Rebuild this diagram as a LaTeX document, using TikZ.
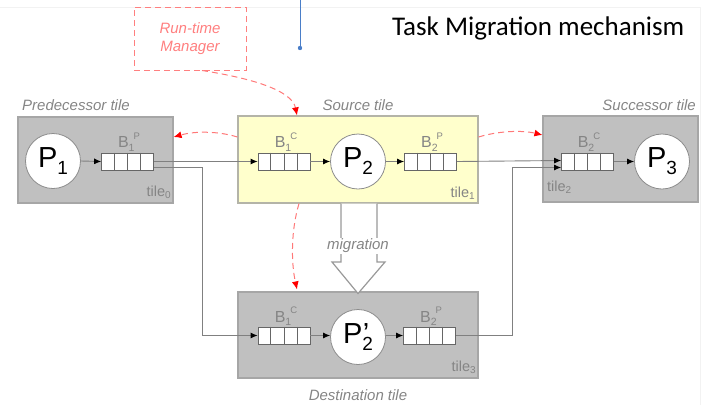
\documentclass[tikz,border=0pt]{standalone}
\usepackage{fontspec}
\setmainfont{Liberation Sans}
\newfontfamily\titlefont{Carlito}
\usetikzlibrary{arrows.meta,calc}
\definecolor{tilegray}{HTML}{C0C0C0}
\definecolor{tileedge}{HTML}{A6A6A6}
\definecolor{srcyellow}{HTML}{FFFFCC}
\definecolor{srcedge}{HTML}{B4B4A8}
\definecolor{txtgray}{HTML}{858585}
\definecolor{reddash}{HTML}{FF7878}
\definecolor{mgrred}{HTML}{FF7F7F}
\definecolor{blueline}{HTML}{4A7EC8}
\definecolor{faint}{HTML}{F2F2F2}
\newcommand\bufcells[1]{\foreach \f in {0.25,0.5,0.75}{\draw[black!60,line width=0.8pt] ($(#1.north west)!\f!(#1.north east)$) -- ($(#1.south west)!\f!(#1.south east)$);}}
\newcommand\blab[2]{B\raisebox{-3.5pt}{\fontsize{10.5}{10.5}\selectfont #1}\hspace{-1pt}\raisebox{8.5pt}{\fontsize{9.5}{9.5}\selectfont #2}}
\newcommand\plab[1]{\fontsize{29}{29}\selectfont P\raisebox{-7pt}{\fontsize{19}{19}\selectfont #1}}
\newcommand\plabprime[1]{\fontsize{29}{29}\selectfont P\rlap{\hspace{0.5pt}’}\raisebox{-7pt}{\fontsize{19}{19}\selectfont #1}}
\newcommand\tlab[1]{tile\raisebox{-2.5pt}{\fontsize{10}{10}\selectfont #1}}
\begin{document}
\begin{tikzpicture}[x=1pt,y=-1pt,
  tile/.style={draw=tileedge, line width=1.2pt, fill=tilegray, rectangle, inner sep=0},
  buf/.style={draw=black!60, fill=white, minimum width=52pt, minimum height=17pt, inner sep=0, line width=0.8pt},
  proc/.style={circle, draw=black!45, fill=white, minimum size=55pt, inner sep=0, line width=0.8pt},
  conn/.style={draw=black!50, line width=0.9pt, -{Latex[length=7pt,width=6pt,color=black]}},
  rdash/.style={draw=reddash, line width=1pt, dash pattern=on 6pt off 4pt, -{Latex[length=8pt,width=7pt,color=red]}},
  blabel/.style={text=txtgray, font=\fontsize{16}{16}\selectfont, inner sep=0},
  tlabel/.style={text=txtgray, font=\fontsize{14.5}{14.5}\selectfont, inner sep=0},
  caption/.style={text=txtgray, font=\fontsize{15}{15}\selectfont\itshape, inner sep=0},
  mgr/.style={draw=mgrred, dash pattern=on 6pt off 4pt, line width=1pt, text=mgrred, align=center,
    font=\fontsize{15}{18}\selectfont\itshape, minimum width=112pt, minimum height=63pt, inner sep=0},
  migr/.style={draw=black!40, line width=1.2pt, fill=white, line join=miter}
]
\useasboundingbox (0,0) rectangle (706,405);

% faint slide frame and blue marker
\draw[faint, line width=0.8pt] (0,7) -- (700,7) -- (700,405);
\coordinate (bltop) at (300,0);
\coordinate (blbot) at (300,48);
\draw[blueline, line width=0.9pt] (bltop) -- (blbot);
\fill[blueline] (blbot) circle (2.2pt);

% title
\node[anchor=base west, inner sep=0, font=\titlefont\fontsize{27}{27}\selectfont] (title) at (392,35) {Task Migration mechanism};

% tiles
\node[tile, minimum width=155pt, minimum height=86pt] (pred) at (95.5,160) {};
\node[tile, fill=srcyellow, draw=srcedge, minimum width=240pt, minimum height=87pt] (src) at (358,159.5) {};
\node[tile, minimum width=155pt, minimum height=86pt] (succ) at (620.5,159) {};
\node[tile, minimum width=240pt, minimum height=86pt] (dest) at (358,335) {};

% captions
\node[caption, anchor=base west] (cpred) at (22,110) {Predecessor tile};
\node[caption, anchor=base] (csrc) at (358,110) {Source tile};
\node[caption, anchor=base east] (csucc) at (696,110) {Successor tile};
\node[caption, anchor=base] (cdest) at (358,400) {Destination tile};

% tile ids
\node[tlabel, anchor=base east] (t0) at (171,196) {\tlab{0}};
\node[tlabel, anchor=base east] (t1) at (475,197) {\tlab{1}};
\node[tlabel, anchor=base west] (t2) at (547,191) {\tlab{2}};
\node[tlabel, anchor=base east] (t3) at (476,371) {\tlab{3}};

% buffers
\node[buf] (b0) at (127.5,161.5) {}; \bufcells{b0}
\node[buf] (b1) at (284,161.5) {};   \bufcells{b1}
\node[buf] (b2) at (430.5,161.5) {}; \bufcells{b2}
\node[buf] (b3) at (587.5,161.5) {}; \bufcells{b3}
\node[buf] (b4) at (284,335.5) {};   \bufcells{b4}
\node[buf] (b5) at (429.5,335.5) {}; \bufcells{b5}

% buffer labels
\node[blabel, anchor=base] (l0) at (129,147.5) {\blab{1}{P}};
\node[blabel, anchor=base] (l1) at (286,147.5) {\blab{1}{C}};
\node[blabel, anchor=base] (l2) at (432,147.5) {\blab{2}{P}};
\node[blabel, anchor=base] (l3) at (589,147.5) {\blab{2}{C}};
\node[blabel, anchor=base] (l4) at (286,322) {\blab{1}{C}};
\node[blabel, anchor=base] (l5) at (431,322) {\blab{2}{P}};

% processes
\node[proc] (p1) at (53,161) {\plab{1}};
\node[proc] (p2) at (358,161.5) {\plab{2}};
\node[proc] (p3) at (662,161.5) {\plab{3}};
\node[proc] (p4) at (358,337) {\plabprime{2}};

% internal arrows
\draw[conn] (p1.east) -- (b0.west);
\draw[conn] (b1.east) -- (b1.east -| p2.west);
\draw[conn] (p2.east) -- (b2.west);
\draw[conn] (b3.east) -- (b3.east -| p3.west);
\draw[conn] (b4.east) -- (b4.east -| p4.west);
\draw[conn] (b4.east -| p4.east) -- (b5.west);

% inter-tile channels
\draw[conn] (b0.east) -- (b1.west);
\draw[conn] ([yshift=-6pt]b0.east) -- ++(49,0) |- (b4.west);
\draw[conn] (b2.east) -- ([yshift=1pt]b3.west);
\draw[conn] (b5.east) -- ++(57,0) |- ([yshift=-6pt]b3.west);

% migration arrow
\coordinate (ms1) at (341,203.5);
\coordinate (ms2) at (377,203.5);
\draw[migr] (ms1) -- (341,262) -- (332,262) -- (358,293.5) -- (385,262) -- (377,262) -- (ms2);
\node[caption, fill=white, inner sep=1.5pt] (mig) at (358,246) {migration};

% run-time manager
\node[mgr] (mgr) at (190,38.5) {Run-time\\Manager};

% red dashed control arrows
\draw[rdash] ([xshift=12pt]mgr.south) .. controls (250,78) and (292,90) .. ([xshift=-61pt]src.north);
\draw[rdash] ([yshift=22.5pt]src.west) .. controls (218,131) and (195,131) .. ([yshift=23pt]pred.east);
\draw[rdash] ([yshift=22.5pt]src.east) .. controls (498,131) and (522,130) .. ([yshift=24pt]succ.west);
\draw[rdash] ([xshift=-59pt]src.south) .. controls (291,230) and (291,262) .. ([xshift=-61pt,yshift=2pt]dest.north);
\end{tikzpicture}
\end{document}
